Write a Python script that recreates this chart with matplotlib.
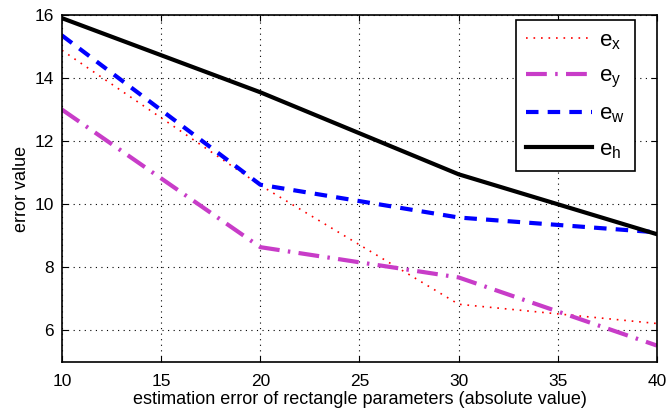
import matplotlib
matplotlib.use("Agg")
import matplotlib.pyplot as plt

plt.rcParams['font.family'] = ['Liberation Sans', 'DejaVu Sans']
plt.rcParams['mathtext.fontset'] = 'custom'
plt.rcParams['mathtext.rm'] = 'Liberation Sans'
plt.rcParams['mathtext.it'] = 'Liberation Sans'

x = [10, 20, 30, 40]
e_x = [14.88, 10.6, 6.83, 6.22]
e_y = [13.0, 8.64, 7.68, 5.52]
e_w = [15.35, 10.62, 9.58, 9.11]
e_h = [15.9, 13.55, 10.95, 9.05]
labels = [r'e$_\mathregular{x}$', r'e$_\mathregular{y}$', r'e$_\mathregular{w}$', r'e$_\mathregular{h}$']

fig = plt.figure(figsize=(6.68, 4.12), dpi=100)
ax = fig.add_axes([0.0928, 0.1214, 0.8907, 0.8422])

ax.plot(x, e_x, color='red', linestyle=(0, (1, 3.5)), linewidth=1.2, label=labels[0])
ax.plot(x, e_y, color='#c83cc8', linestyle=(0, (5, 2, 0.6, 2)), linewidth=3, label=labels[1])
ax.plot(x, e_w, color='#0000ff', linestyle=(0, (3, 2.2)), linewidth=3, label=labels[2])
ax.plot(x, e_h, color='black', linestyle='-', linewidth=3, label=labels[3])

ax.set_xlim(10, 40)
ax.set_ylim(5, 16)
ax.set_xticks([10, 15, 20, 25, 30, 35, 40])
ax.set_yticks([6, 8, 10, 12, 14, 16])
ax.grid(True, color='black', linestyle=(0, (1, 4)), linewidth=0.8)
ax.tick_params(direction='in', top=True, right=True, labelsize=12.5, length=4)
ax.tick_params(axis='x', pad=9)
ax.tick_params(axis='y', pad=6)
for s in ax.spines.values():
    s.set_linewidth(1.2)

ax.set_xlabel('estimation error of rectangle parameters (absolute value)', fontsize=13, labelpad=1)
ax.set_ylabel('error value', fontsize=13, labelpad=3)

leg = ax.legend(loc='upper right', bbox_to_anchor=(0.963, 0.9856), borderaxespad=0,
                fontsize=16, fancybox=False,
                edgecolor='black', framealpha=1, handlelength=3.0, borderpad=0.45,
                labelspacing=0.62, handletextpad=0.3)
leg.get_frame().set_linewidth(1.2)

fig.savefig('out.png', dpi=100)
